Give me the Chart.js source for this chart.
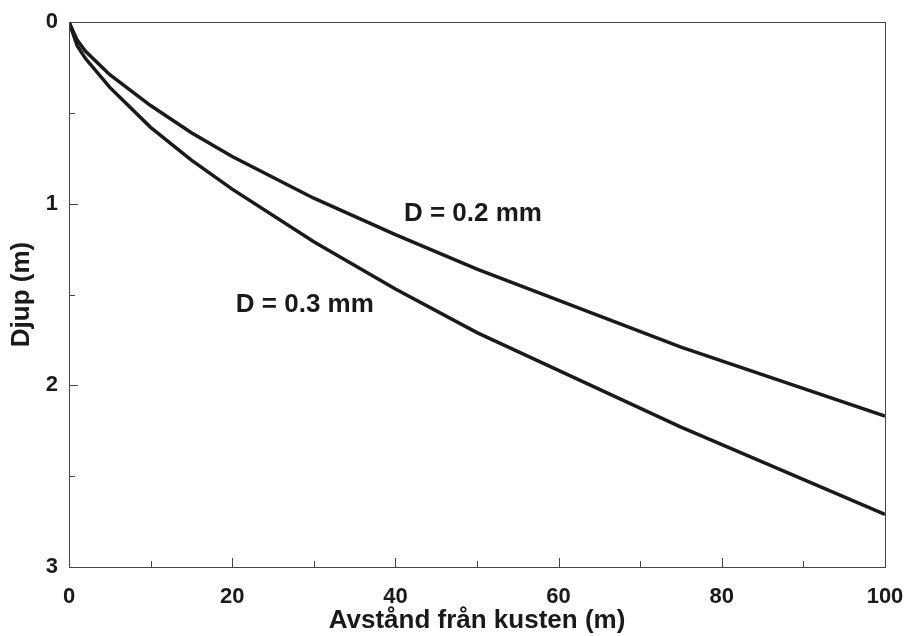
<!DOCTYPE html>
<html lang="sv">
  <head>
    <meta charset="UTF-8" />
    <title>Djup mot avstånd från kusten</title>
    <script src="https://cdn.jsdelivr.net/npm/chart.js"></script>
    <style>
      html, body { margin: 0; padding: 0; background: #fff; }
      #wrap { width: 905px; height: 636px; }
    </style>
  </head>
  <body>
    <div id="wrap"><canvas id="myChart" width="905" height="636"></canvas></div>
    <script>
      // avstånd från kusten (m)
      var avstand = [0, 1, 2, 5, 10, 15, 20, 30, 40, 50, 75, 100]
      // djup (m) för de två kornstorlekarna
      var djup02 = [0, 0.10, 0.16, 0.29, 0.46, 0.61, 0.74, 0.97, 1.17, 1.36, 1.79, 2.17]
      var djup03 = [0, 0.13, 0.20, 0.36, 0.58, 0.76, 0.92, 1.21, 1.47, 1.71, 2.23, 2.71]
      var kurvNamn = ["D = 0.2 mm", "D = 0.3 mm"]
      var xTicks = [0, 20, 40, 60, 80, 100]
      var yTicks = [0, 1, 2, 3]

      var FONT = "'Liberation Sans', Arial, sans-serif"

      function pts(xs, ys) {
        return xs.map(function (x, i) { return { x: x, y: ys[i] } })
      }

      // ram runt diagrammet och inåtvända streck
      var ramPlugin = {
        id: "ram",
        afterDatasetsDraw: function (chart) {
          var c = chart.ctx, a = chart.chartArea
          var sx = chart.scales.x, sy = chart.scales.y
          c.save()
          c.strokeStyle = "#444"
          c.lineWidth = 1
          c.strokeRect(a.left + 0.5, a.top + 0.5, a.right - a.left, a.bottom - a.top)
          c.beginPath()
          for (var v = 0; v <= 100; v += 10) {
            var px = Math.round(sx.getPixelForValue(v)) + 0.5
            var len = v % 20 === 0 ? 9 : 6
            c.moveTo(px, a.bottom)
            c.lineTo(px, a.bottom - len)
          }
          for (var w = 0; w <= 3; w += 0.5) {
            var py = Math.round(sy.getPixelForValue(w)) + 0.5
            var l2 = w % 1 === 0 ? 9 : 6
            c.moveTo(a.left, py)
            c.lineTo(a.left + l2, py)
          }
          c.stroke()

          // kurvetiketter
          c.fillStyle = "#1a1a1a"
          c.font = "bold 26px " + FONT
          c.textAlign = "center"
          c.textBaseline = "middle"
          c.fillText(kurvNamn[0], sx.getPixelForValue(49.5), sy.getPixelForValue(1.055))
          c.fillText(kurvNamn[1], sx.getPixelForValue(28.9), sy.getPixelForValue(1.555))
          c.restore()
        },
      }

      var ctx = document.getElementById("myChart").getContext("2d")
      var myChart = new Chart(ctx, {
        type: "line",
        data: {
          datasets: [
            {
              label: kurvNamn[0],
              data: pts(avstand, djup02),
              borderColor: "#1a1a1a",
              borderWidth: 3.5,
              pointRadius: 0,
              tension: 0,
              fill: false,
            },
            {
              label: kurvNamn[1],
              data: pts(avstand, djup03),
              borderColor: "#1a1a1a",
              borderWidth: 3.5,
              pointRadius: 0,
              tension: 0,
              fill: false,
            },
          ],
        },
        options: {
          responsive: false,
          animation: false,
          layout: { padding: { top: 22, right: 20, left: 0, bottom: 0 } },
          plugins: {
            legend: { display: false },
            tooltip: { enabled: false },
          },
          scales: {
            x: {
              type: "linear",
              min: 0,
              max: 100,
              afterBuildTicks: function (s) {
                s.ticks = xTicks.map(function (v) { return { value: v } })
              },
              grid: { display: false, drawTicks: false },
              border: { display: false },
              ticks: {
                color: "#1a1a1a",
                padding: 17,
                font: { family: FONT, size: 22, weight: "bold" },
              },
              title: {
                display: true,
                text: "Avstånd från kusten (m)",
                color: "#1a1a1a",
                padding: { top: 0, bottom: 0 },
                font: { family: FONT, size: 26, weight: "bold" },
              },
              afterFit: function (s) {
                s.height = 69
                s.paddingLeft = 0
                s.paddingRight = 0
              },
            },
            y: {
              type: "linear",
              min: 0,
              max: 3,
              reverse: true,
              afterBuildTicks: function (s) {
                s.ticks = yTicks.map(function (v) { return { value: v } })
              },
              grid: { display: false, drawTicks: false },
              border: { display: false },
              ticks: {
                color: "#1a1a1a",
                padding: 11,
                font: { family: FONT, size: 22, weight: "bold" },
              },
              title: {
                display: true,
                text: "Djup (m)",
                color: "#1a1a1a",
                padding: { top: 6, bottom: 0 },
                font: { family: FONT, size: 26, weight: "bold" },
              },
              afterFit: function (s) {
                s.width = 69
                s.paddingTop = 0
                s.paddingBottom = 0
              },
            },
          },
        },
        plugins: [ramPlugin],
      })
    </script>
  </body>
</html>
